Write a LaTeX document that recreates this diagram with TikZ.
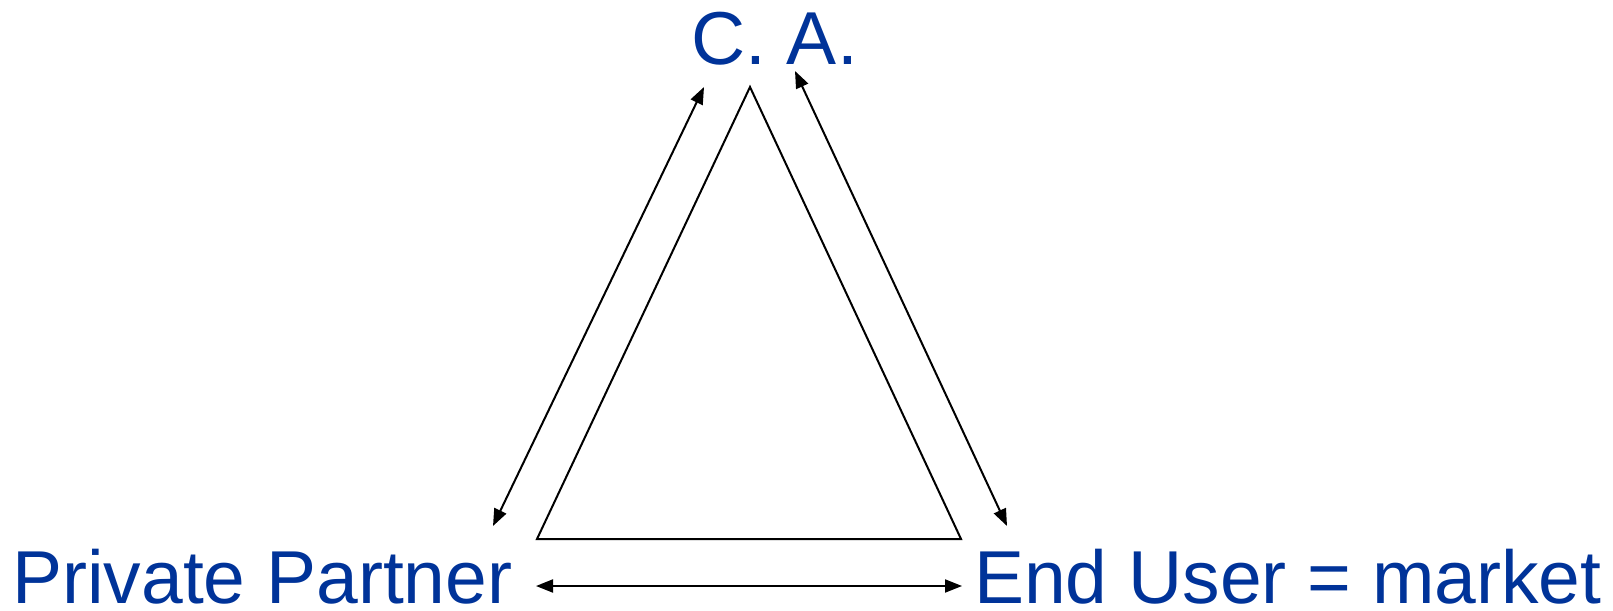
\documentclass[tikz,border=0pt]{standalone}
\usepackage{fontspec}
\setmainfont{Liberation Sans}
\usetikzlibrary{arrows.meta}
\definecolor{lbl}{RGB}{0,51,153}
\begin{document}
\begin{tikzpicture}[x=1pt,y=-1pt,
  lab/.style={text=lbl,font=\fontsize{75}{80}\selectfont,inner sep=0pt,anchor=base west,text depth=0pt},
  tri/.style={line width=2pt,black},
  dbl/.style={line width=2pt,black,{Triangle[length=17pt,width=13pt]}-{Triangle[length=17pt,width=13pt]}}]
\useasboundingbox (0,0) rectangle (1613,610);
\node[lab] (ca) at (691,64) {C. A.};
\node[lab] (pp) at (12,603) {Private Partner};
\node[lab] (eu) at (974,603) {End User = market};
\coordinate (apex) at (750,87);
\coordinate (bl) at (537,539);
\coordinate (br) at (961,539);
\draw[tri] (apex) -- (bl) -- (br) -- cycle;
\coordinate (l1) at (704,87);
\coordinate (l2) at (493,526);
\coordinate (r1) at (795,71);
\coordinate (r2) at (1007,526);
\coordinate (h1) at (536,586);
\coordinate (h2) at (962,586);
\draw[dbl] (l1) -- (l2);
\draw[dbl] (r1) -- (r2);
\draw[dbl] (h1) -- (h2);
\end{tikzpicture}
\end{document}
